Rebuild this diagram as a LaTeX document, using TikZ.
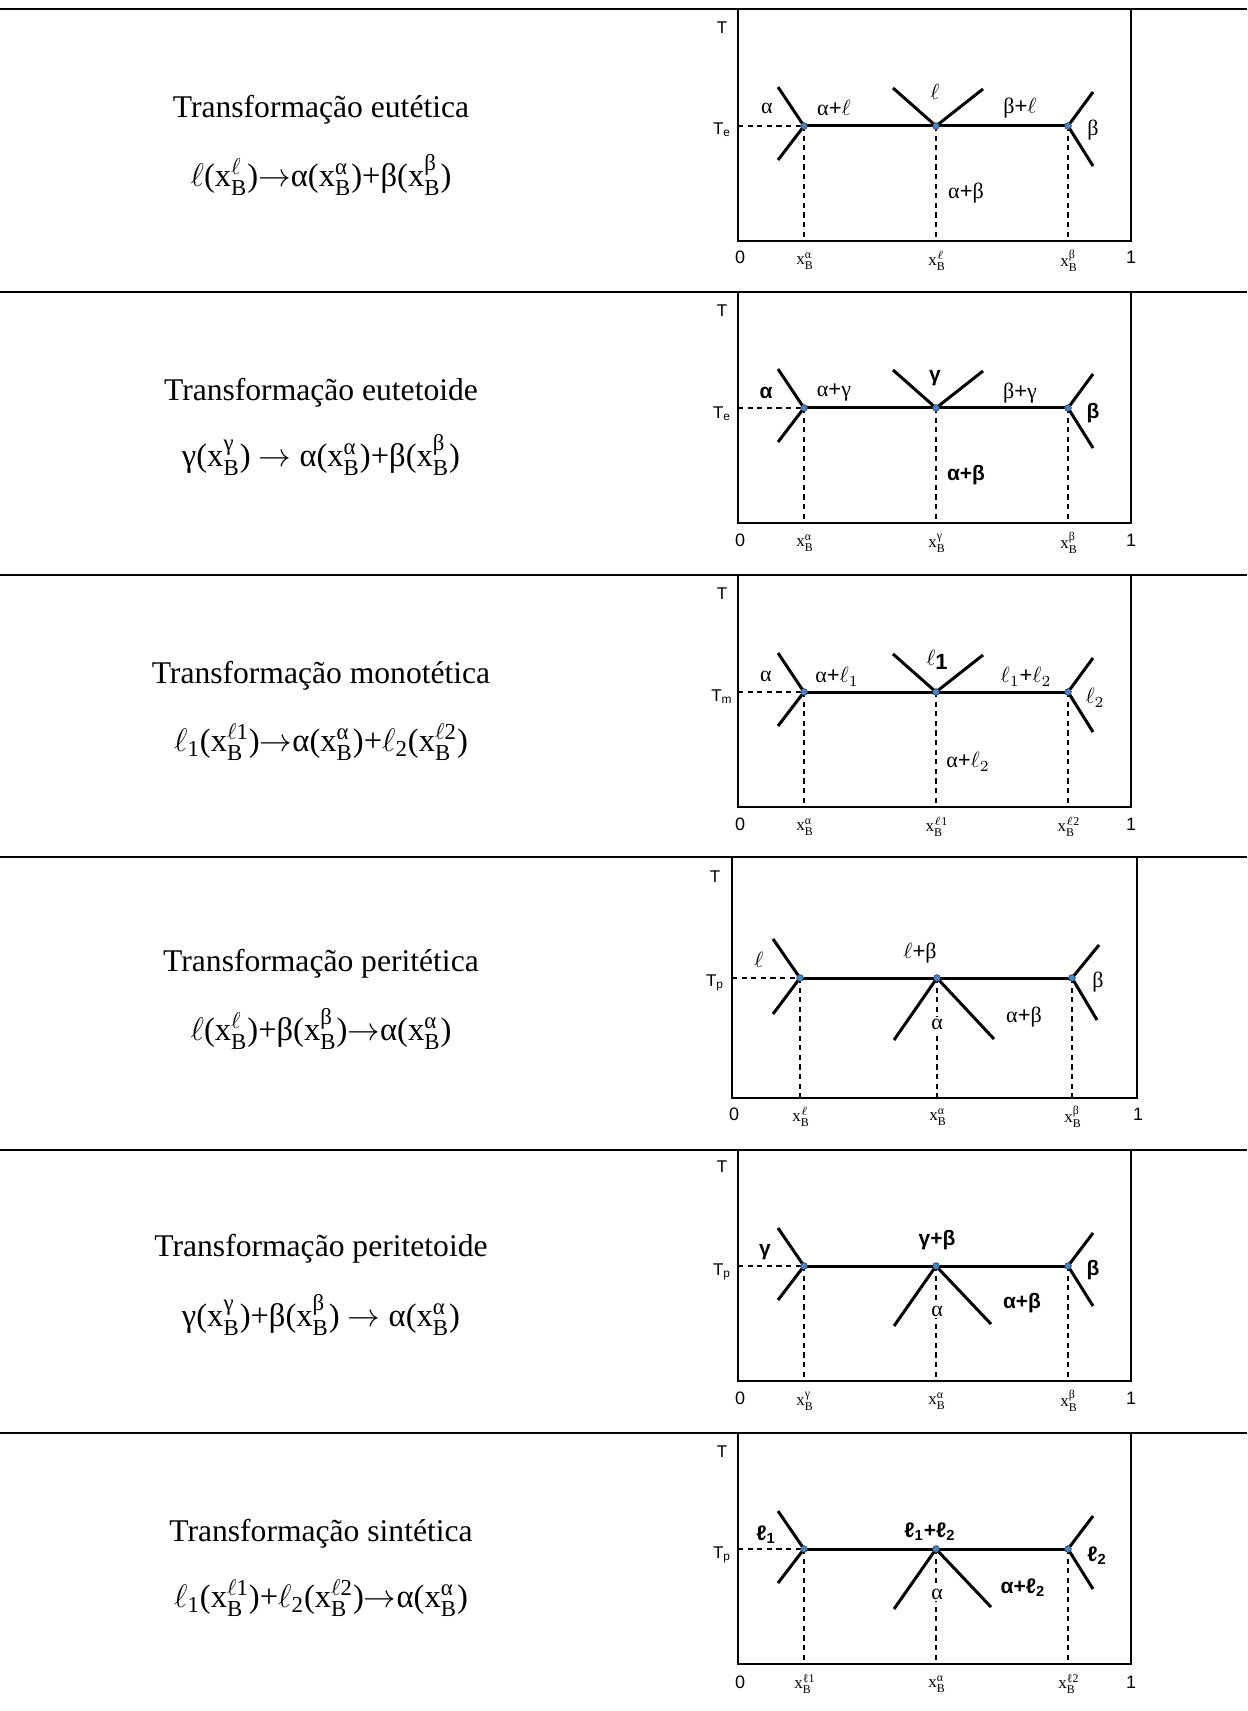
\RequirePackage{fix-cm}
\documentclass[tikz,border=0pt]{standalone}
\usepackage{amsmath}
\usepackage{fontspec}
\setmainfont{Liberation Serif}
\setsansfont{Liberation Sans}
\usetikzlibrary{calc}
\definecolor{dotblue}{RGB}{79,129,189}
\definecolor{dotedge}{RGB}{45,65,95}
\newcommand{\xB}[1]{x$_{\text{B}}^{\text{#1}}$}
\tikzset{
 sepl/.style={line width=1.3pt},
 framel/.style={line width=1pt},
 thickl/.style={line width=1.5pt},
 dashl/.style={line width=0.7pt, dash pattern=on 2.6pt off 2.2pt},
 dotn/.style={circle, fill=dotblue, draw=dotedge, line width=0.3pt, inner sep=0pt, minimum size=3.4pt},
 ttl/.style={font=\fontsize{15.8}{19}\selectfont},
 eqn/.style={font=\fontsize{16.3}{19}\selectfont},
 axl/.style={font=\sffamily\fontsize{9}{10}\selectfont},
 tl/.style={font=\sffamily\fontsize{8.5}{10}\selectfont},
 xbl/.style={font=\fontsize{8.5}{10}\selectfont, inner sep=1pt},
 gl/.style={font=\fontsize{11}{13}\selectfont, inner sep=1pt},
 gb/.style={font=\sffamily\bfseries\fontsize{10.5}{13}\selectfont, inner sep=1pt},
 wb/.style={fill=white},
}
\newcommand{\panel}[9]{%
 \coordinate (#1tl) at (#2,#4);
 \coordinate (#1bl) at (#2,#6);
 \coordinate (#1br) at (#3,#6);
 \coordinate (#1tr) at (#3,#4);
 \coordinate (#1y) at (#2,#5);
 \coordinate (#1A) at (#7,#5);
 \coordinate (#1C) at (#8,#5);
 \coordinate (#1D) at (#9,#5);
 \coordinate (#1Ab) at (#7,#6);
 \coordinate (#1Cb) at (#8,#6);
 \coordinate (#1Db) at (#9,#6);
 \draw[framel] (#1tl) -- (#1bl) -- (#1br) -- (#1tr);
 \draw[dashl] (#1y) -- (#1A);
 \draw[dashl] (#1A) -- (#1Ab);
 \draw[dashl] (#1C) -- (#1Cb);
 \draw[dashl] (#1D) -- (#1Db);
 \draw[thickl] (#1A) -- (#1D);
}
\newcommand{\eutarms}[1]{%
 \draw[thickl] ([shift={(-26,-39)}]#1A) -- (#1A) -- ([shift={(-26,34)}]#1A);
 \draw[thickl] ([shift={(-43,-38)}]#1C) -- (#1C) -- ([shift={(47,-37)}]#1C);
 \draw[thickl] ([shift={(25,-34)}]#1D) -- (#1D) -- ([shift={(25,40)}]#1D);
}
\newcommand{\perarms}[1]{%
 \draw[thickl] ([shift={(-26,-38)}]#1A) -- (#1A) -- ([shift={(-26,34)}]#1A);
 \draw[thickl] ([shift={(-42,60)}]#1C) -- (#1C) -- ([shift={(55,58)}]#1C);
 \draw[thickl] ([shift={(25,-33)}]#1D) -- (#1D) -- ([shift={(25,40)}]#1D);
}
\newcommand{\pdots}[1]{%
 \node[dotn] (#1dA) at (#1A) {};
 \node[dotn] (#1dC) at (#1C) {};
 \node[dotn] (#1dD) at (#1D) {};
}
\begin{document}
\begin{tikzpicture}[x=0.5pt,y=-0.5pt]
\useasboundingbox (0,0) rectangle (1247,1711);
% separators
\foreach \yy/\nm in {9/s1,292/s2,575/s3,857/s4,1150/s5,1433/s6}{
 \coordinate (\nm l) at (0,\yy);
 \coordinate (\nm r) at (1247,\yy);
 \draw[sepl] (\nm l) -- (\nm r);
}
% ===== Row 1 =====
\node[ttl] (t1) at (321,110) {Transformação eutética};
\node[eqn] (e1) at (321,175) {$\ell$(\xB{$\ell$})$\rightarrow$α(\xB{α})+β(\xB{β})};
\panel{a}{738}{1131}{9}{126}{241}{804}{936}{1068}
\eutarms{a}
\pdots{a}
\node[tl] (aT) at (722,28) {T};
\node[tl] (aTe) at (722,130) {T\textsubscript{e}};
\node[axl] (a0) at (740,257) {0};
\node[axl] (a1) at (1131,257) {1};
\node[xbl] (axa) at (805,261) {\xB{α}};
\node[xbl] (axc) at (937,261) {\xB{$\ell$}};
\node[xbl] (axd) at (1069,261) {\xB{β}};
\node[gl] (aga) at (767,108) {α};
\node[gl] (agal) at (834,108) {α\textsf{+}$\ell$};
\node[gl] (agl) at (935,92) {$\ell$};
\node[gl] (agbl) at (1020,108) {β\textsf{+}$\ell$};
\node[gl] (agb) at (1093,130) {β};
\node[gl] (agab) at (966,193) {α\textsf{+}β};
% ===== Row 2 =====
\node[ttl] (t2) at (321,393) {Transformação eutetoide};
\node[eqn] (e2) at (321,455) {γ(\xB{γ}) $\rightarrow$ α(\xB{α})+β(\xB{β})};
\panel{b}{738}{1131}{292}{408}{523}{804}{936}{1068}
\eutarms{b}
\pdots{b}
\node[tl] (bT) at (722,311) {T};
\node[tl] (bTe) at (722,414) {T\textsubscript{e}};
\node[axl] (b0) at (740,540) {0};
\node[axl] (b1) at (1131,540) {1};
\node[xbl] (bxa) at (805,543) {\xB{α}};
\node[xbl] (bxc) at (937,543) {\xB{γ}};
\node[xbl] (bxd) at (1069,543) {\xB{β}};
\node[gb] (bga) at (766,393) {α};
\node[gl] (bgag) at (834,392) {α\textsf{+}γ};
\node[gb] (bgg) at (935,378) {γ};
\node[gl] (bgbg) at (1020,393) {β\textsf{+}γ};
\node[gb] (bgb) at (1093,413) {β};
\node[gb] (bgab) at (966,475) {α+β};
% ===== Row 3 =====
\node[ttl] (t3) at (321,676) {Transformação monotética};
\node[eqn] (e3) at (321,742) {$\ell_{\text{1}}$(\xB{$\ell$1})$\rightarrow$α(\xB{α})+$\ell_{\text{2}}$(\xB{$\ell$2})};
\panel{c}{738}{1131}{575}{692}{807}{804}{936}{1068}
\eutarms{c}
\pdots{c}
\node[tl] (cT) at (722,594) {T};
\node[tl] (cTm) at (722,697) {T\textsubscript{m}};
\node[axl] (c0) at (740,824) {0};
\node[axl] (c1) at (1131,824) {1};
\node[xbl] (cxa) at (805,827) {\xB{α}};
\node[xbl] (cxc) at (937,827) {\xB{$\ell$1}};
\node[xbl] (cxd) at (1069,827) {\xB{$\ell$2}};
\node[gl] (cga) at (766,676) {α};
\node[gl] (cgal) at (837,677) {α\textsf{+}$\ell_1$};
\node[gl] (cgl) at (937,660) {$\ell$\raisebox{-0.4ex}{\sffamily\bfseries 1}};
\node[gl] (cgll) at (1026,677) {$\ell_1$\textsf{+}$\ell_2$};
\node[gl] (cgl2) at (1095,698) {$\ell_2$};
\node[gl] (cgal2) at (968,762) {α\textsf{+}$\ell_2$};
% ===== Row 4 =====
\node[ttl] (t4) at (321,964) {Transformação peritética};
\node[eqn] (e4) at (321,1029) {$\ell$(\xB{$\ell$})+β(\xB{β})$\rightarrow$α(\xB{α})};
\panel{d}{732}{1137}{857}{978}{1098}{800}{937}{1072}
\draw[thickl] ([shift={(-27,-39)}]dA) -- (dA) -- ([shift={(-27,36)}]dA);
\draw[thickl] ([shift={(-43,62)}]dC) -- (dC) -- ([shift={(57,61)}]dC);
\draw[thickl] ([shift={(27,-33)}]dD) -- (dD) -- ([shift={(25,42)}]dD);
\pdots{d}
\node[tl] (dT) at (715,877) {T};
\node[tl] (dTp) at (715,983) {T\textsubscript{p}};
\node[axl] (d0) at (734,1114) {0};
\node[axl] (d1) at (1138,1114) {1};
\node[xbl] (dxa) at (801,1117) {\xB{$\ell$}};
\node[xbl] (dxc) at (938,1117) {\xB{α}};
\node[xbl] (dxd) at (1073,1117) {\xB{β}};
\node[gl] (dgl) at (759,960) {$\ell$};
\node[gl] (dglb) at (920,953) {$\ell$\textsf{+}β};
\node[gl] (dgb) at (1098,982) {β};
\node[gl,wb] (dga) at (937,1024) {α};
\node[gl] (dgab) at (1024,1017) {α\textsf{+}β};
% ===== Row 5 =====
\node[ttl] (t5) at (321,1249) {Transformação peritetoide};
\node[eqn] (e5) at (321,1315) {γ(\xB{γ})+β(\xB{β}) $\rightarrow$ α(\xB{α})};
\panel{e}{738}{1131}{1150}{1266}{1381}{804}{936}{1068}
\perarms{e}
\pdots{e}
\node[tl] (eT) at (722,1167) {T};
\node[tl] (eTp) at (722,1272) {T\textsubscript{p}};
\node[axl] (e0) at (740,1398) {0};
\node[axl] (e1) at (1131,1398) {1};
\node[xbl] (exa) at (805,1401) {\xB{γ}};
\node[xbl] (exc) at (937,1401) {\xB{α}};
\node[xbl] (exd) at (1069,1401) {\xB{β}};
\node[gb] (egg) at (765,1252) {γ};
\node[gb] (eggb) at (937,1240) {γ+β};
\node[gb] (egb) at (1093,1270) {β};
\node[gl,wb] (ega) at (937,1311) {α};
\node[gb] (egab) at (1022,1303) {α+β};
% ===== Row 6 =====
\node[ttl] (t6) at (321,1534) {Transformação sintética};
\node[eqn] (e6) at (321,1598) {$\ell_{\text{1}}$(\xB{$\ell$1})+$\ell_{\text{2}}$(\xB{$\ell$2})$\rightarrow$α(\xB{α})};
\panel{f}{738}{1131}{1433}{1549}{1664}{804}{936}{1068}
\perarms{f}
\pdots{f}
\node[tl] (fT) at (722,1452) {T};
\node[tl] (fTp) at (722,1555) {T\textsubscript{p}};
\node[axl] (f0) at (740,1682) {0};
\node[axl] (f1) at (1131,1682) {1};
\node[xbl] (fxa) at (805,1684) {\xB{ℓ1}};
\node[xbl] (fxc) at (937,1684) {\xB{α}};
\node[xbl] (fxd) at (1069,1684) {\xB{ℓ2}};
\node[gb] (fgl1) at (766,1535) {ℓ\textsubscript{1}};
\node[gb] (fgll) at (930,1532) {ℓ\textsubscript{1}+ℓ\textsubscript{2}};
\node[gb] (fgl2) at (1097,1556) {ℓ\textsubscript{2}};
\node[gl,wb] (fga) at (937,1594) {α};
\node[gb] (fgal) at (1023,1588) {α+ℓ\textsubscript{2}};
\end{tikzpicture}
\end{document}
